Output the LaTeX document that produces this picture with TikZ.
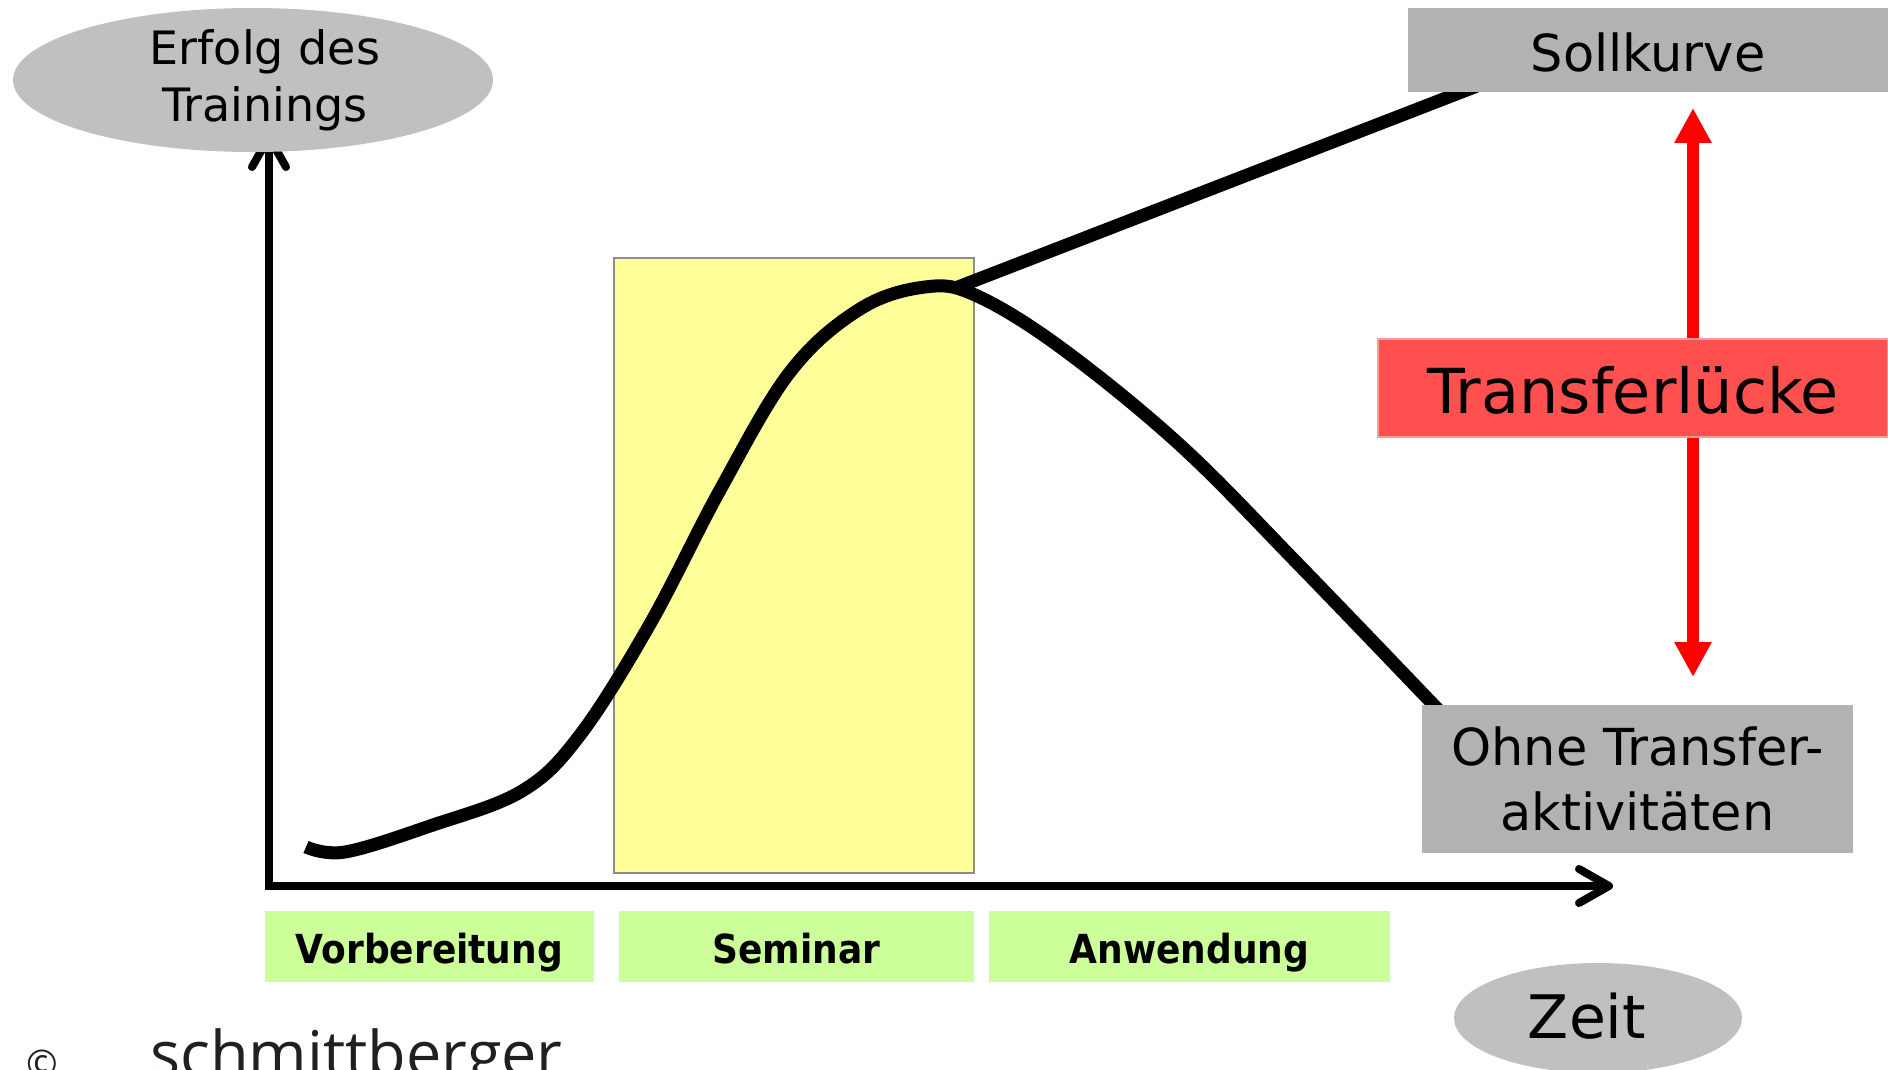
\documentclass[tikz,border=0pt]{standalone}
\usepackage{fontspec}
\setmainfont{DejaVu Sans}
\newfontfamily\labfont{DejaVu Sans Condensed}
\newfontfamily\signfont{Open Sans}
\usetikzlibrary{shapes.geometric,arrows.meta}
\definecolor{ellgray}{HTML}{C0C0C0}
\definecolor{boxgray}{HTML}{B2B2B2}
\definecolor{gapred}{HTML}{FF5050}
\definecolor{gapborder}{HTML}{FF9A9A}
\definecolor{zoneyellow}{HTML}{FFFF99}
\definecolor{zoneborder}{HTML}{8C8C8C}
\definecolor{phasegreen}{HTML}{CCFF99}
\definecolor{signgray}{HTML}{231F20}
\begin{document}
\begin{tikzpicture}[x=1pt,y=-1pt,
  ellbg/.style={ellipse, fill=ellgray, inner sep=0pt},
  graybox/.style={fill=boxgray, inner sep=0pt},
  phase/.style={fill=phasegreen, minimum height=71pt, inner sep=0pt,
     font=\labfont\bfseries\fontsize{40}{48}\selectfont, text height=33pt, text depth=0pt},
  thick curve/.style={line width=13pt},
  axisline/.style={line width=8pt, {Straight Barb[length=30pt,width=34pt,round]}-{Straight Barb[length=30pt,width=34pt,round]}},
  gaparrow/.style={line width=12pt, red, {Triangle[width=35pt,length=35pt]}-{Triangle[width=35pt,length=35pt]}}
]
\useasboundingbox[fill=white] (0,0) rectangle (1888,1070);

% seminar zone
\node[draw=zoneborder, line width=1.5pt, fill=zoneyellow, minimum width=360pt, minimum height=615pt, inner sep=0pt, anchor=north west] (zone) at (613,257) {};

% axes
\coordinate (ytop) at (269,133);
\coordinate (origin) at (269,886);
\coordinate (xend) at (1613,886);
\draw[axisline] (ytop) -- (origin) -- (xend);

% curves
\draw[thick curve] plot[smooth, tension=0.6] coordinates {(306,847) (345,852) (430,826) (522,791) (580,735) (650,624) (720,490) (790,372) (860,309) (925,287) (975,295) (1060,347) (1180,445) (1300,566) (1450,722)};
\coordinate (branch) at (958,287);
\coordinate (sollend) at (1490,81);
\draw[thick curve] (branch) -- (sollend);

% red gap arrow
\coordinate (gaptop) at (1693,108);
\coordinate (gapbot) at (1693,677);
\draw[gaparrow] (gaptop) -- (gapbot);

% boxes
\node[graybox, minimum width=480pt, minimum height=84pt, font=\fontsize{51}{60}\selectfont, text height=44pt, text depth=0pt] (soll) at (1648,50) {Sollkurve};
\node[fill=gapred, draw=gapborder, line width=1.5pt, inner sep=0pt, minimum width=510pt, minimum height=98pt, font=\fontsize{62}{70}\selectfont, text height=50pt, text depth=0pt] (gap) at (1633,388) {Transferlücke};
\node[graybox, minimum width=431pt, minimum height=148pt, font=\fontsize{51}{65}\selectfont, align=center] (ohne) at (1637.5,779) {Ohne Transfer-\\aktivitäten};

% ellipses
\node[ellbg, minimum width=480pt, minimum height=144pt] (erfolgbg) at (253,80) {};
\node[font=\fontsize{46}{57}\selectfont, align=center] (erfolg) at (265,80) {Erfolg des\\Trainings};
\node[ellbg, minimum width=288pt, minimum height=110pt] (zeitbg) at (1598,1018) {};
\node[font=\fontsize{60}{70}\selectfont, anchor=base, inner sep=0pt] (zeit) at (1587,1038) {Zeit};

% phases
\node[phase, minimum width=329pt] (vorb) at (429.5,946.5) {Vorbereitung};
\node[phase, minimum width=355pt] (sem) at (796.5,946.5) {Seminar};
\node[phase, minimum width=401pt] (anw) at (1189.5,946.5) {Anwendung};

% signature
\node[font=\signfont\fontsize{63}{70}\selectfont, text=signgray, anchor=base west, inner sep=0pt] (sign) at (150,1076) {schmittberger};
\node[font=\signfont\fontsize{38}{44}\selectfont, text=signgray, anchor=base, inner sep=0pt] (copy) at (42,1077) {©};
\end{tikzpicture}
\end{document}
